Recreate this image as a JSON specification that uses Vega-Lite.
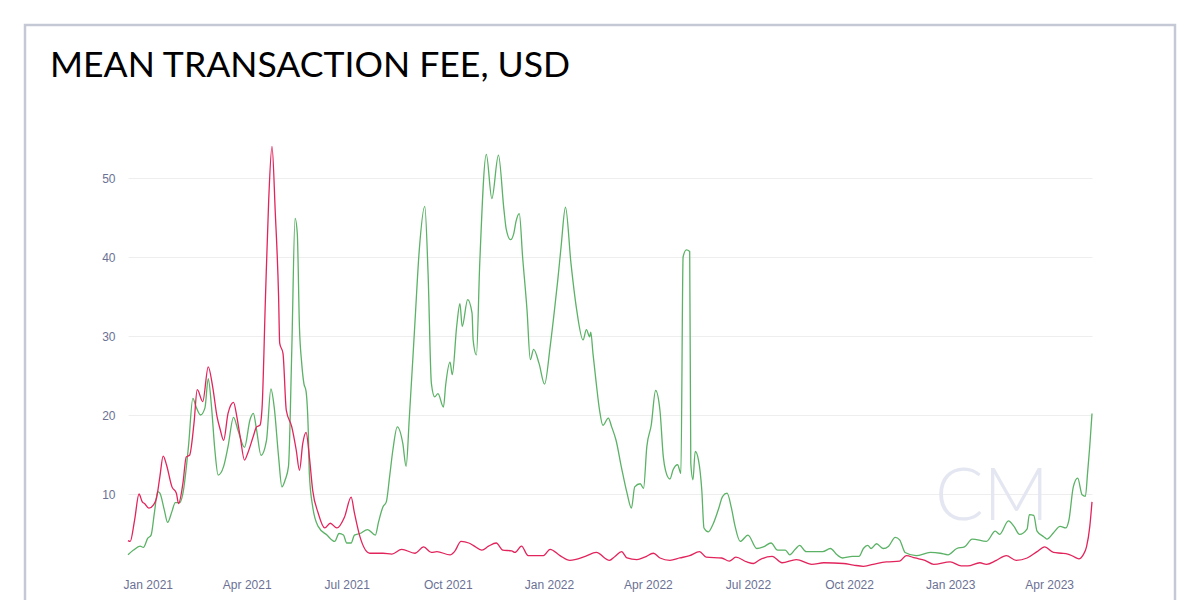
{
  "$schema": "https://vega.github.io/schema/vega-lite/v6.json",
  "width": 1150,
  "height": 575,
  "autosize": {"type": "none"},
  "padding": {"left": 25, "top": 25, "right": 25, "bottom": 0},
  "background": "white",
  "title": {"text": "MEAN TRANSACTION FEE, USD", "anchor": "start", "frame": "group", "dx": 25, "offset": -88, "font": "Lato", "fontSize": 35.6, "fontWeight": "normal", "color": "#000000", "baseline": "alphabetic"},
  "config": {
    "view": {"stroke": "#c5c9d6", "strokeWidth": 2.5, "strokeDash": [1725, 1150]},
    "axis": {"labelFont": "Liberation Sans", "labelFontSize": 12, "labelColor": "#6b7194", "domain": false, "ticks": false, "tickSize": 0, "title": null}
  },
  "datasets": {
    "fees": [
      {"date": "2020-12-14", "series": "ETH", "fee": 2.3},
      {"date": "2020-12-19", "series": "ETH", "fee": 2.9},
      {"date": "2020-12-25", "series": "ETH", "fee": 3.4},
      {"date": "2020-12-28", "series": "ETH", "fee": 3.25},
      {"date": "2021-01-01", "series": "ETH", "fee": 4.4},
      {"date": "2021-01-04", "series": "ETH", "fee": 4.8},
      {"date": "2021-01-07", "series": "ETH", "fee": 7.6},
      {"date": "2021-01-10", "series": "ETH", "fee": 10.3},
      {"date": "2021-01-12", "series": "ETH", "fee": 10.1},
      {"date": "2021-01-16", "series": "ETH", "fee": 8.0},
      {"date": "2021-01-19", "series": "ETH", "fee": 6.4},
      {"date": "2021-01-23", "series": "ETH", "fee": 7.8},
      {"date": "2021-01-26", "series": "ETH", "fee": 8.9},
      {"date": "2021-01-30", "series": "ETH", "fee": 8.9},
      {"date": "2021-02-02", "series": "ETH", "fee": 10.1},
      {"date": "2021-02-07", "series": "ETH", "fee": 16.0},
      {"date": "2021-02-11", "series": "ETH", "fee": 22.1},
      {"date": "2021-02-14", "series": "ETH", "fee": 21.0},
      {"date": "2021-02-18", "series": "ETH", "fee": 20.0},
      {"date": "2021-02-22", "series": "ETH", "fee": 20.9},
      {"date": "2021-02-25", "series": "ETH", "fee": 24.6},
      {"date": "2021-02-28", "series": "ETH", "fee": 21.0},
      {"date": "2021-03-03", "series": "ETH", "fee": 15.6},
      {"date": "2021-03-06", "series": "ETH", "fee": 12.4},
      {"date": "2021-03-11", "series": "ETH", "fee": 13.5},
      {"date": "2021-03-15", "series": "ETH", "fee": 16.0},
      {"date": "2021-03-20", "series": "ETH", "fee": 19.7},
      {"date": "2021-03-24", "series": "ETH", "fee": 18.1},
      {"date": "2021-03-30", "series": "ETH", "fee": 15.9},
      {"date": "2021-04-04", "series": "ETH", "fee": 19.4},
      {"date": "2021-04-07", "series": "ETH", "fee": 20.2},
      {"date": "2021-04-10", "series": "ETH", "fee": 18.1},
      {"date": "2021-04-14", "series": "ETH", "fee": 14.9},
      {"date": "2021-04-19", "series": "ETH", "fee": 16.8},
      {"date": "2021-04-23", "series": "ETH", "fee": 23.3},
      {"date": "2021-04-26", "series": "ETH", "fee": 21.0},
      {"date": "2021-04-30", "series": "ETH", "fee": 14.7},
      {"date": "2021-05-03", "series": "ETH", "fee": 10.9},
      {"date": "2021-05-06", "series": "ETH", "fee": 11.8},
      {"date": "2021-05-09", "series": "ETH", "fee": 13.5},
      {"date": "2021-05-12", "series": "ETH", "fee": 28.2},
      {"date": "2021-05-15", "series": "ETH", "fee": 44.9},
      {"date": "2021-05-17", "series": "ETH", "fee": 43.0},
      {"date": "2021-05-19", "series": "ETH", "fee": 31.0},
      {"date": "2021-05-21", "series": "ETH", "fee": 26.6},
      {"date": "2021-05-23", "series": "ETH", "fee": 24.0},
      {"date": "2021-05-25", "series": "ETH", "fee": 23.0},
      {"date": "2021-05-27", "series": "ETH", "fee": 18.0},
      {"date": "2021-05-28", "series": "ETH", "fee": 12.5},
      {"date": "2021-05-31", "series": "ETH", "fee": 8.4},
      {"date": "2021-06-05", "series": "ETH", "fee": 5.9},
      {"date": "2021-06-13", "series": "ETH", "fee": 4.8},
      {"date": "2021-06-20", "series": "ETH", "fee": 4.0},
      {"date": "2021-06-24", "series": "ETH", "fee": 5.0},
      {"date": "2021-06-28", "series": "ETH", "fee": 4.8},
      {"date": "2021-07-01", "series": "ETH", "fee": 3.8},
      {"date": "2021-07-05", "series": "ETH", "fee": 3.8},
      {"date": "2021-07-08", "series": "ETH", "fee": 4.8},
      {"date": "2021-07-13", "series": "ETH", "fee": 5.0},
      {"date": "2021-07-20", "series": "ETH", "fee": 5.5},
      {"date": "2021-07-27", "series": "ETH", "fee": 4.8},
      {"date": "2021-07-30", "series": "ETH", "fee": 6.5},
      {"date": "2021-08-03", "series": "ETH", "fee": 8.4},
      {"date": "2021-08-06", "series": "ETH", "fee": 9.0},
      {"date": "2021-08-09", "series": "ETH", "fee": 12.2},
      {"date": "2021-08-12", "series": "ETH", "fee": 15.6},
      {"date": "2021-08-16", "series": "ETH", "fee": 18.5},
      {"date": "2021-08-21", "series": "ETH", "fee": 16.4},
      {"date": "2021-08-24", "series": "ETH", "fee": 13.5},
      {"date": "2021-08-27", "series": "ETH", "fee": 19.8},
      {"date": "2021-09-01", "series": "ETH", "fee": 31.6},
      {"date": "2021-09-05", "series": "ETH", "fee": 40.9},
      {"date": "2021-09-10", "series": "ETH", "fee": 46.4},
      {"date": "2021-09-13", "series": "ETH", "fee": 37.9},
      {"date": "2021-09-16", "series": "ETH", "fee": 24.0},
      {"date": "2021-09-19", "series": "ETH", "fee": 22.3},
      {"date": "2021-09-22", "series": "ETH", "fee": 22.7},
      {"date": "2021-09-27", "series": "ETH", "fee": 21.0},
      {"date": "2021-09-29", "series": "ETH", "fee": 23.8},
      {"date": "2021-10-03", "series": "ETH", "fee": 26.7},
      {"date": "2021-10-05", "series": "ETH", "fee": 25.1},
      {"date": "2021-10-09", "series": "ETH", "fee": 31.2},
      {"date": "2021-10-12", "series": "ETH", "fee": 34.1},
      {"date": "2021-10-14", "series": "ETH", "fee": 31.2},
      {"date": "2021-10-19", "series": "ETH", "fee": 34.6},
      {"date": "2021-10-23", "series": "ETH", "fee": 32.9},
      {"date": "2021-10-24", "series": "ETH", "fee": 29.5},
      {"date": "2021-10-27", "series": "ETH", "fee": 27.6},
      {"date": "2021-10-30", "series": "ETH", "fee": 39.2},
      {"date": "2021-11-05", "series": "ETH", "fee": 53.0},
      {"date": "2021-11-10", "series": "ETH", "fee": 47.4},
      {"date": "2021-11-16", "series": "ETH", "fee": 52.9},
      {"date": "2021-11-21", "series": "ETH", "fee": 46.0},
      {"date": "2021-11-23", "series": "ETH", "fee": 43.6},
      {"date": "2021-11-27", "series": "ETH", "fee": 42.2},
      {"date": "2021-11-30", "series": "ETH", "fee": 43.0},
      {"date": "2021-12-02", "series": "ETH", "fee": 44.5},
      {"date": "2021-12-05", "series": "ETH", "fee": 45.5},
      {"date": "2021-12-08", "series": "ETH", "fee": 40.0},
      {"date": "2021-12-12", "series": "ETH", "fee": 33.3},
      {"date": "2021-12-15", "series": "ETH", "fee": 27.0},
      {"date": "2021-12-18", "series": "ETH", "fee": 28.3},
      {"date": "2021-12-23", "series": "ETH", "fee": 26.5},
      {"date": "2021-12-28", "series": "ETH", "fee": 23.9},
      {"date": "2022-01-02", "series": "ETH", "fee": 28.6},
      {"date": "2022-01-06", "series": "ETH", "fee": 33.3},
      {"date": "2022-01-09", "series": "ETH", "fee": 37.1},
      {"date": "2022-01-12", "series": "ETH", "fee": 41.3},
      {"date": "2022-01-16", "series": "ETH", "fee": 46.3},
      {"date": "2022-01-21", "series": "ETH", "fee": 39.2},
      {"date": "2022-01-26", "series": "ETH", "fee": 33.5},
      {"date": "2022-02-01", "series": "ETH", "fee": 29.5},
      {"date": "2022-02-04", "series": "ETH", "fee": 30.8},
      {"date": "2022-02-07", "series": "ETH", "fee": 29.9},
      {"date": "2022-02-08", "series": "ETH", "fee": 30.5},
      {"date": "2022-02-10", "series": "ETH", "fee": 27.8},
      {"date": "2022-02-13", "series": "ETH", "fee": 24.0},
      {"date": "2022-02-16", "series": "ETH", "fee": 20.6},
      {"date": "2022-02-19", "series": "ETH", "fee": 18.7},
      {"date": "2022-02-24", "series": "ETH", "fee": 19.6},
      {"date": "2022-02-27", "series": "ETH", "fee": 18.5},
      {"date": "2022-03-03", "series": "ETH", "fee": 16.8},
      {"date": "2022-03-08", "series": "ETH", "fee": 13.3},
      {"date": "2022-03-13", "series": "ETH", "fee": 10.1},
      {"date": "2022-03-17", "series": "ETH", "fee": 8.2},
      {"date": "2022-03-20", "series": "ETH", "fee": 10.9},
      {"date": "2022-03-25", "series": "ETH", "fee": 11.3},
      {"date": "2022-03-28", "series": "ETH", "fee": 10.7},
      {"date": "2022-03-31", "series": "ETH", "fee": 16.0},
      {"date": "2022-04-04", "series": "ETH", "fee": 18.7},
      {"date": "2022-04-08", "series": "ETH", "fee": 23.1},
      {"date": "2022-04-12", "series": "ETH", "fee": 20.5},
      {"date": "2022-04-15", "series": "ETH", "fee": 14.7},
      {"date": "2022-04-17", "series": "ETH", "fee": 13.0},
      {"date": "2022-04-21", "series": "ETH", "fee": 11.9},
      {"date": "2022-04-24", "series": "ETH", "fee": 13.1},
      {"date": "2022-04-28", "series": "ETH", "fee": 13.7},
      {"date": "2022-05-01", "series": "ETH", "fee": 12.6},
      {"date": "2022-05-03", "series": "ETH", "fee": 40.0},
      {"date": "2022-05-06", "series": "ETH", "fee": 40.9},
      {"date": "2022-05-09", "series": "ETH", "fee": 40.7},
      {"date": "2022-05-10", "series": "ETH", "fee": 13.9},
      {"date": "2022-05-12", "series": "ETH", "fee": 11.8},
      {"date": "2022-05-14", "series": "ETH", "fee": 15.4},
      {"date": "2022-05-17", "series": "ETH", "fee": 14.3},
      {"date": "2022-05-20", "series": "ETH", "fee": 10.5},
      {"date": "2022-05-22", "series": "ETH", "fee": 5.7},
      {"date": "2022-05-26", "series": "ETH", "fee": 5.2},
      {"date": "2022-05-30", "series": "ETH", "fee": 6.1},
      {"date": "2022-06-04", "series": "ETH", "fee": 8.0},
      {"date": "2022-06-08", "series": "ETH", "fee": 9.7},
      {"date": "2022-06-12", "series": "ETH", "fee": 10.1},
      {"date": "2022-06-16", "series": "ETH", "fee": 8.2},
      {"date": "2022-06-19", "series": "ETH", "fee": 6.1},
      {"date": "2022-06-24", "series": "ETH", "fee": 4.0},
      {"date": "2022-07-01", "series": "ETH", "fee": 4.8},
      {"date": "2022-07-09", "series": "ETH", "fee": 3.1},
      {"date": "2022-07-15", "series": "ETH", "fee": 3.3},
      {"date": "2022-07-22", "series": "ETH", "fee": 3.8},
      {"date": "2022-07-28", "series": "ETH", "fee": 2.9},
      {"date": "2022-08-04", "series": "ETH", "fee": 2.9},
      {"date": "2022-08-08", "series": "ETH", "fee": 2.3},
      {"date": "2022-08-13", "series": "ETH", "fee": 3.0},
      {"date": "2022-08-17", "series": "ETH", "fee": 3.5},
      {"date": "2022-08-23", "series": "ETH", "fee": 2.7},
      {"date": "2022-08-31", "series": "ETH", "fee": 2.7},
      {"date": "2022-09-07", "series": "ETH", "fee": 2.7},
      {"date": "2022-09-14", "series": "ETH", "fee": 3.1},
      {"date": "2022-09-20", "series": "ETH", "fee": 2.3},
      {"date": "2022-09-25", "series": "ETH", "fee": 1.9},
      {"date": "2022-10-04", "series": "ETH", "fee": 2.1},
      {"date": "2022-10-10", "series": "ETH", "fee": 2.1},
      {"date": "2022-10-14", "series": "ETH", "fee": 3.1},
      {"date": "2022-10-18", "series": "ETH", "fee": 3.5},
      {"date": "2022-10-21", "series": "ETH", "fee": 3.1},
      {"date": "2022-10-26", "series": "ETH", "fee": 3.7},
      {"date": "2022-11-01", "series": "ETH", "fee": 3.1},
      {"date": "2022-11-06", "series": "ETH", "fee": 3.4},
      {"date": "2022-11-12", "series": "ETH", "fee": 4.5},
      {"date": "2022-11-16", "series": "ETH", "fee": 4.2},
      {"date": "2022-11-21", "series": "ETH", "fee": 2.6},
      {"date": "2022-12-01", "series": "ETH", "fee": 2.2},
      {"date": "2022-12-14", "series": "ETH", "fee": 2.6},
      {"date": "2022-12-23", "series": "ETH", "fee": 2.5},
      {"date": "2022-12-30", "series": "ETH", "fee": 2.3},
      {"date": "2023-01-07", "series": "ETH", "fee": 3.1},
      {"date": "2023-01-14", "series": "ETH", "fee": 3.3},
      {"date": "2023-01-21", "series": "ETH", "fee": 4.3},
      {"date": "2023-02-03", "series": "ETH", "fee": 4.0},
      {"date": "2023-02-11", "series": "ETH", "fee": 5.3},
      {"date": "2023-02-15", "series": "ETH", "fee": 4.9},
      {"date": "2023-02-23", "series": "ETH", "fee": 6.6},
      {"date": "2023-02-28", "series": "ETH", "fee": 5.9},
      {"date": "2023-03-05", "series": "ETH", "fee": 4.9},
      {"date": "2023-03-12", "series": "ETH", "fee": 5.6},
      {"date": "2023-03-14", "series": "ETH", "fee": 7.4},
      {"date": "2023-03-18", "series": "ETH", "fee": 7.3},
      {"date": "2023-03-21", "series": "ETH", "fee": 5.3},
      {"date": "2023-03-27", "series": "ETH", "fee": 4.6},
      {"date": "2023-03-30", "series": "ETH", "fee": 4.3},
      {"date": "2023-04-05", "series": "ETH", "fee": 5.1},
      {"date": "2023-04-11", "series": "ETH", "fee": 5.9},
      {"date": "2023-04-16", "series": "ETH", "fee": 5.7},
      {"date": "2023-04-19", "series": "ETH", "fee": 6.7},
      {"date": "2023-04-23", "series": "ETH", "fee": 10.9},
      {"date": "2023-04-27", "series": "ETH", "fee": 12.0},
      {"date": "2023-05-01", "series": "ETH", "fee": 9.9},
      {"date": "2023-05-04", "series": "ETH", "fee": 9.7},
      {"date": "2023-05-06", "series": "ETH", "fee": 12.7},
      {"date": "2023-05-08", "series": "ETH", "fee": 16.1},
      {"date": "2023-05-10", "series": "ETH", "fee": 20.2},
      {"date": "2020-12-14", "series": "BTC", "fee": 4.1},
      {"date": "2020-12-16", "series": "BTC", "fee": 4.0},
      {"date": "2020-12-20", "series": "BTC", "fee": 6.7},
      {"date": "2020-12-24", "series": "BTC", "fee": 10.0},
      {"date": "2020-12-27", "series": "BTC", "fee": 9.0},
      {"date": "2020-12-29", "series": "BTC", "fee": 8.8},
      {"date": "2021-01-02", "series": "BTC", "fee": 8.2},
      {"date": "2021-01-06", "series": "BTC", "fee": 8.6},
      {"date": "2021-01-09", "series": "BTC", "fee": 9.5},
      {"date": "2021-01-12", "series": "BTC", "fee": 12.2},
      {"date": "2021-01-15", "series": "BTC", "fee": 14.8},
      {"date": "2021-01-18", "series": "BTC", "fee": 13.7},
      {"date": "2021-01-23", "series": "BTC", "fee": 10.9},
      {"date": "2021-01-27", "series": "BTC", "fee": 10.1},
      {"date": "2021-01-29", "series": "BTC", "fee": 8.8},
      {"date": "2021-02-02", "series": "BTC", "fee": 11.4},
      {"date": "2021-02-05", "series": "BTC", "fee": 14.7},
      {"date": "2021-02-08", "series": "BTC", "fee": 14.9},
      {"date": "2021-02-12", "series": "BTC", "fee": 18.9},
      {"date": "2021-02-15", "series": "BTC", "fee": 23.2},
      {"date": "2021-02-20", "series": "BTC", "fee": 21.7},
      {"date": "2021-02-25", "series": "BTC", "fee": 26.1},
      {"date": "2021-03-01", "series": "BTC", "fee": 23.6},
      {"date": "2021-03-05", "series": "BTC", "fee": 19.8},
      {"date": "2021-03-08", "series": "BTC", "fee": 18.1},
      {"date": "2021-03-11", "series": "BTC", "fee": 16.8},
      {"date": "2021-03-15", "series": "BTC", "fee": 20.2},
      {"date": "2021-03-20", "series": "BTC", "fee": 21.6},
      {"date": "2021-03-23", "series": "BTC", "fee": 19.8},
      {"date": "2021-03-26", "series": "BTC", "fee": 17.3},
      {"date": "2021-03-30", "series": "BTC", "fee": 14.3},
      {"date": "2021-04-02", "series": "BTC", "fee": 15.2},
      {"date": "2021-04-07", "series": "BTC", "fee": 17.3},
      {"date": "2021-04-10", "series": "BTC", "fee": 18.5},
      {"date": "2021-04-13", "series": "BTC", "fee": 18.7},
      {"date": "2021-04-15", "series": "BTC", "fee": 21.0},
      {"date": "2021-04-18", "series": "BTC", "fee": 34.6},
      {"date": "2021-04-21", "series": "BTC", "fee": 47.2},
      {"date": "2021-04-24", "series": "BTC", "fee": 54.0},
      {"date": "2021-04-27", "series": "BTC", "fee": 45.6},
      {"date": "2021-04-30", "series": "BTC", "fee": 35.0},
      {"date": "2021-05-01", "series": "BTC", "fee": 29.1},
      {"date": "2021-05-04", "series": "BTC", "fee": 27.8},
      {"date": "2021-05-07", "series": "BTC", "fee": 20.6},
      {"date": "2021-05-12", "series": "BTC", "fee": 18.5},
      {"date": "2021-05-16", "series": "BTC", "fee": 15.6},
      {"date": "2021-05-19", "series": "BTC", "fee": 13.0},
      {"date": "2021-05-22", "series": "BTC", "fee": 16.4},
      {"date": "2021-05-25", "series": "BTC", "fee": 17.8},
      {"date": "2021-05-28", "series": "BTC", "fee": 14.7},
      {"date": "2021-05-31", "series": "BTC", "fee": 10.5},
      {"date": "2021-06-05", "series": "BTC", "fee": 7.6},
      {"date": "2021-06-11", "series": "BTC", "fee": 5.7},
      {"date": "2021-06-16", "series": "BTC", "fee": 6.3},
      {"date": "2021-06-22", "series": "BTC", "fee": 5.7},
      {"date": "2021-06-29", "series": "BTC", "fee": 7.1},
      {"date": "2021-07-05", "series": "BTC", "fee": 9.6},
      {"date": "2021-07-08", "series": "BTC", "fee": 7.6},
      {"date": "2021-07-13", "series": "BTC", "fee": 4.6},
      {"date": "2021-07-22", "series": "BTC", "fee": 2.5},
      {"date": "2021-08-03", "series": "BTC", "fee": 2.5},
      {"date": "2021-08-11", "series": "BTC", "fee": 2.4},
      {"date": "2021-08-20", "series": "BTC", "fee": 3.0},
      {"date": "2021-09-01", "series": "BTC", "fee": 2.5},
      {"date": "2021-09-09", "series": "BTC", "fee": 3.3},
      {"date": "2021-09-16", "series": "BTC", "fee": 2.6},
      {"date": "2021-09-21", "series": "BTC", "fee": 2.7},
      {"date": "2021-10-03", "series": "BTC", "fee": 2.3},
      {"date": "2021-10-07", "series": "BTC", "fee": 2.7},
      {"date": "2021-10-13", "series": "BTC", "fee": 4.0},
      {"date": "2021-10-20", "series": "BTC", "fee": 3.8},
      {"date": "2021-10-24", "series": "BTC", "fee": 3.5},
      {"date": "2021-11-01", "series": "BTC", "fee": 2.9},
      {"date": "2021-11-07", "series": "BTC", "fee": 3.4},
      {"date": "2021-11-14", "series": "BTC", "fee": 3.8},
      {"date": "2021-11-20", "series": "BTC", "fee": 2.9},
      {"date": "2021-11-28", "series": "BTC", "fee": 2.8},
      {"date": "2021-12-01", "series": "BTC", "fee": 2.6},
      {"date": "2021-12-07", "series": "BTC", "fee": 3.4},
      {"date": "2021-12-13", "series": "BTC", "fee": 2.2},
      {"date": "2021-12-27", "series": "BTC", "fee": 2.2},
      {"date": "2022-01-02", "series": "BTC", "fee": 3.0},
      {"date": "2022-01-11", "series": "BTC", "fee": 2.2},
      {"date": "2022-01-20", "series": "BTC", "fee": 1.6},
      {"date": "2022-02-03", "series": "BTC", "fee": 2.1},
      {"date": "2022-02-13", "series": "BTC", "fee": 2.6},
      {"date": "2022-02-25", "series": "BTC", "fee": 1.6},
      {"date": "2022-03-02", "series": "BTC", "fee": 2.1},
      {"date": "2022-03-08", "series": "BTC", "fee": 2.7},
      {"date": "2022-03-13", "series": "BTC", "fee": 1.9},
      {"date": "2022-03-22", "series": "BTC", "fee": 1.7},
      {"date": "2022-03-29", "series": "BTC", "fee": 2.0},
      {"date": "2022-04-06", "series": "BTC", "fee": 2.5},
      {"date": "2022-04-12", "series": "BTC", "fee": 1.9},
      {"date": "2022-04-21", "series": "BTC", "fee": 1.6},
      {"date": "2022-04-30", "series": "BTC", "fee": 1.9},
      {"date": "2022-05-09", "series": "BTC", "fee": 2.2},
      {"date": "2022-05-18", "series": "BTC", "fee": 2.7},
      {"date": "2022-05-24", "series": "BTC", "fee": 2.0},
      {"date": "2022-06-07", "series": "BTC", "fee": 1.9},
      {"date": "2022-06-14", "series": "BTC", "fee": 1.5},
      {"date": "2022-06-20", "series": "BTC", "fee": 2.0},
      {"date": "2022-06-30", "series": "BTC", "fee": 1.4},
      {"date": "2022-07-06", "series": "BTC", "fee": 1.2},
      {"date": "2022-07-12", "series": "BTC", "fee": 1.7},
      {"date": "2022-07-23", "series": "BTC", "fee": 2.1},
      {"date": "2022-08-01", "series": "BTC", "fee": 1.3},
      {"date": "2022-08-14", "series": "BTC", "fee": 1.7},
      {"date": "2022-08-28", "series": "BTC", "fee": 1.1},
      {"date": "2022-09-08", "series": "BTC", "fee": 1.3},
      {"date": "2022-09-26", "series": "BTC", "fee": 1.2},
      {"date": "2022-10-05", "series": "BTC", "fee": 1.0},
      {"date": "2022-10-14", "series": "BTC", "fee": 0.85},
      {"date": "2022-10-26", "series": "BTC", "fee": 1.2},
      {"date": "2022-11-04", "series": "BTC", "fee": 1.4},
      {"date": "2022-11-16", "series": "BTC", "fee": 1.5},
      {"date": "2022-11-22", "series": "BTC", "fee": 2.2},
      {"date": "2022-11-30", "series": "BTC", "fee": 1.9},
      {"date": "2022-12-09", "series": "BTC", "fee": 1.6},
      {"date": "2022-12-17", "series": "BTC", "fee": 1.1},
      {"date": "2023-01-01", "series": "BTC", "fee": 1.4},
      {"date": "2023-01-11", "series": "BTC", "fee": 0.9},
      {"date": "2023-01-17", "series": "BTC", "fee": 0.9},
      {"date": "2023-01-28", "series": "BTC", "fee": 1.3},
      {"date": "2023-02-03", "series": "BTC", "fee": 1.1},
      {"date": "2023-02-12", "series": "BTC", "fee": 1.6},
      {"date": "2023-02-21", "series": "BTC", "fee": 2.2},
      {"date": "2023-03-02", "series": "BTC", "fee": 1.6},
      {"date": "2023-03-12", "series": "BTC", "fee": 1.9},
      {"date": "2023-03-21", "series": "BTC", "fee": 2.7},
      {"date": "2023-03-28", "series": "BTC", "fee": 3.3},
      {"date": "2023-04-05", "series": "BTC", "fee": 2.6},
      {"date": "2023-04-12", "series": "BTC", "fee": 2.5},
      {"date": "2023-04-18", "series": "BTC", "fee": 2.4},
      {"date": "2023-04-23", "series": "BTC", "fee": 2.1},
      {"date": "2023-04-28", "series": "BTC", "fee": 1.8},
      {"date": "2023-05-02", "series": "BTC", "fee": 2.3},
      {"date": "2023-05-05", "series": "BTC", "fee": 3.3},
      {"date": "2023-05-08", "series": "BTC", "fee": 5.9},
      {"date": "2023-05-10", "series": "BTC", "fee": 9.0}
    ]
  },
  "encoding": {
    "x": {
      "field": "date", "type": "temporal",
      "scale": {"type": "utc", "domain": [{"year": 2020, "month": 12, "date": 14, "utc": true}, {"year": 2023, "month": 5, "date": 10, "utc": true}], "range": [103, 1067]},
      "axis": {
        "values": [
          {"year": 2021, "month": 1, "date": 1, "utc": true},
          {"year": 2021, "month": 4, "date": 1, "utc": true},
          {"year": 2021, "month": 7, "date": 1, "utc": true},
          {"year": 2021, "month": 10, "date": 1, "utc": true},
          {"year": 2022, "month": 1, "date": 1, "utc": true},
          {"year": 2022, "month": 4, "date": 1, "utc": true},
          {"year": 2022, "month": 7, "date": 1, "utc": true},
          {"year": 2022, "month": 10, "date": 1, "utc": true},
          {"year": 2023, "month": 1, "date": 1, "utc": true},
          {"year": 2023, "month": 4, "date": 1, "utc": true}
        ],
        "format": "%b %Y", "offset": -27, "labelPadding": 6, "grid": false, "labelFlush": false, "labelOverlap": false
      }
    },
    "y": {
      "field": "fee", "type": "quantitative",
      "scale": {"domain": [0, 55], "range": [548, 113.5], "nice": false, "zero": false},
      "axis": {"values": [10, 20, 30, 40, 50], "offset": -103, "labelPadding": 13, "grid": true, "gridColor": "#eeeeee", "gridWidth": 1}
    }
  },
  "layer": [
    {
      "data": {"values": [{"logo": "CM", "when": "2023-02-08", "level": 9.5}]},
      "mark": {"type": "text", "font": "Lato", "fontWeight": 300, "fontSize": 72, "fill": "#e4e7f1", "align": "center", "baseline": "middle"},
      "encoding": {
        "x": {"field": "when", "type": "temporal"},
        "y": {"field": "level", "type": "quantitative"},
        "text": {"field": "logo", "type": "nominal"}
      }
    },
    {
      "data": {"name": "fees"},
      "transform": [{"filter": "datum.series === 'ETH'"}],
      "mark": {"type": "line", "color": "#5bb266", "strokeWidth": 1.3, "interpolate": "monotone"}
    },
    {
      "data": {"name": "fees"},
      "transform": [{"filter": "datum.series === 'BTC'"}],
      "mark": {"type": "line", "color": "#e2245c", "strokeWidth": 1.3, "interpolate": "monotone"}
    }
  ]
}
